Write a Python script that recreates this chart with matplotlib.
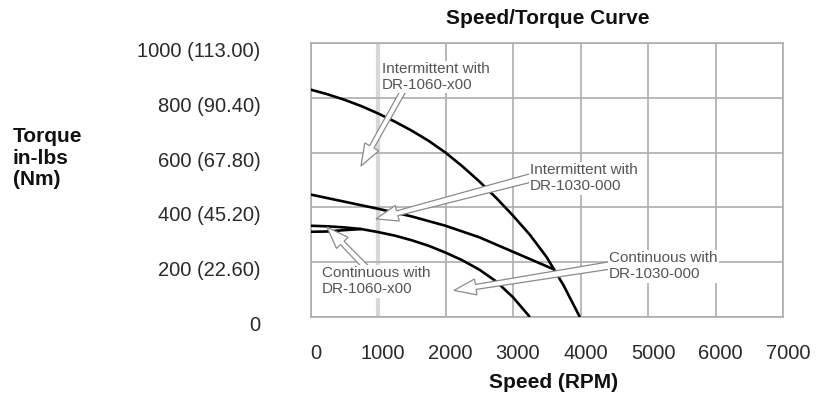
import numpy as np
import matplotlib
matplotlib.use("Agg")
import matplotlib.pyplot as plt
from matplotlib.patches import Polygon
from matplotlib.transforms import ScaledTranslation

plt.rcParams['font.family'] = ['Liberation Sans', 'DejaVu Sans']

# ---- data -------------------------------------------------------------
speed_ticks = [0, 1000, 2000, 3000, 4000, 5000, 6000, 7000]
torque_ticks = [0, 200, 400, 600, 800, 1000]
torque_tick_labels = ["0", "200 (22.60)", "400 (45.20)", "600 (67.80)",
                      "800 (90.40)", "1000 (113.00)"]

# Intermittent with DR-1060-x00
int_1060_rpm = [0, 250, 500, 750, 1000, 1250, 1500, 1750, 2000, 2250,
                2500, 2750, 3000, 3250, 3500, 3750, 3990]
int_1060_torque = [830, 813, 793, 770, 743, 713, 680, 643, 600, 550,
                   495, 435, 370, 300, 218, 115, 0]

# Intermittent with DR-1030-000
int_1030_rpm = [0, 500, 1000, 1500, 2000, 2500, 3000, 3500, 3622]
int_1030_torque = [447, 421, 395, 367, 333, 291, 238, 185, 172]

# Continuous curve (lower envelope)
cont_rpm = [0, 250, 500, 750, 1000, 1250, 1500, 1750, 2000, 2250,
            2500, 2750, 3000, 3250]
cont_torque = [333, 331, 327, 321, 310, 297, 280, 260, 235, 207,
               173, 130, 72, 0]

# Continuous low-speed branch that joins the lower envelope
cont_low_rpm = [0, 250, 500, 750]
cont_low_torque = [311, 312, 317, 321]

# ---- figure -----------------------------------------------------------
W, H = 823, 396
fig = plt.figure(figsize=(W / 100, H / 100), dpi=100)
ax = fig.add_axes([310.5 / W, 1 - 317 / H, (783 - 310.5) / W, (317 - 43) / H])

grid_c = "#adadad"
ax.set_xlim(0, 7000)
ax.set_ylim(0, 1000)
ax.set_xticks(speed_ticks)
ax.set_xticklabels([str(v) for v in speed_ticks])
ax.set_yticks(torque_ticks)
ax.set_yticklabels(torque_tick_labels)
ax.grid(True, color=grid_c, linewidth=1.2, zorder=0)
# the 1000 RPM line is drawn paler and wider
for gl, v in zip(ax.get_xgridlines(), speed_ticks):
    if v == 1000:
        gl.set_color("#d8d8d8")
        gl.set_linewidth(3.0)
for sp in ax.spines.values():
    sp.set_color(grid_c)
    sp.set_linewidth(1.2)
ax.tick_params(length=0, labelsize=14.5, labelcolor="#2a2a2a")
ax.tick_params(axis="y", pad=36)
ax.tick_params(axis="x", pad=19.5)
for lab in ax.get_yticklabels():
    lab.set_transform(lab.get_transform() + ScaledTranslation(0, -0.065, fig.dpi_scale_trans))
for lab in ax.get_xticklabels():
    lab.set_transform(lab.get_transform() + ScaledTranslation(0.05, 0, fig.dpi_scale_trans))

curve_kw = dict(color="black", linewidth=1.9, solid_capstyle="butt", zorder=3)
ax.plot(int_1060_rpm, int_1060_torque, **curve_kw)
ax.plot(int_1030_rpm, int_1030_torque, **curve_kw)
ax.plot(cont_rpm, cont_torque, **curve_kw)
ax.plot(cont_low_rpm, cont_low_torque, **curve_kw)


def hollow_arrow(ax, tail, tip, w_tail, w_neck=5.0, head_w=16.0, head_len=22.0):
    """Outlined arrow with a slightly tapered shaft (widths in pixels)."""
    p0 = ax.transData.transform(tail)
    p1 = ax.transData.transform(tip)
    d = p1 - p0
    u = d / np.hypot(*d)
    n = np.array([-u[1], u[0]])
    neck = p1 - u * head_len
    pts = np.array([
        p0 + n * w_tail / 2, neck + n * w_neck / 2, neck + n * head_w / 2, p1,
        neck - n * head_w / 2, neck - n * w_neck / 2, p0 - n * w_tail / 2,
    ])
    poly = Polygon(ax.transData.inverted().transform(pts), closed=True,
                   facecolor="white", edgecolor="#8a8a8a", linewidth=0.9,
                   joinstyle="miter", zorder=4)
    ax.add_patch(poly)


# ---- callouts ---------------------------------------------------------
callouts = [
    dict(text="Intermittent with\nDR-1060-x00", xy=(1059, 876), tail=(1430, 850), tip=(748, 551), w=5.5),
    dict(text="Intermittent with\nDR-1030-000", xy=(3252, 507), tail=(3300, 510), tip=(970, 358), w=8.5),
    dict(text="Continuous with\nDR-1030-000", xy=(4422, 186), tail=(4480, 190), tip=(2126, 97), w=7.5),
    dict(text="Continuous with\nDR-1060-x00", xy=(170, 130), tail=(905, 160), tip=(244, 328), w=6.0),
]
for c in callouts:
    hollow_arrow(ax, c["tail"], c["tip"], c["w"])
    ax.text(c["xy"][0], c["xy"][1], c["text"], ha="left", va="center",
            fontsize=11, color="#555555", linespacing=1.2, zorder=5,
            bbox=dict(facecolor="white", edgecolor="none", pad=1.0))

# ---- titles -----------------------------------------------------------
fig.text(548 / W, 1 - 18 / H, "Speed/Torque Curve", ha="center", va="center",
         fontsize=15, fontweight="bold", color="#111111")
fig.text(554 / W, 1 - 383 / H, "Speed (RPM)", ha="center", va="center",
         fontsize=15, fontweight="bold", color="#111111")
fig.text(13 / W, 1 - 158 / H, "Torque\nin-lbs\n(Nm)", ha="left", va="center",
         fontsize=15, fontweight="bold", color="#111111", linespacing=1.15)

fig.savefig("out.png", dpi=100, facecolor="white")
